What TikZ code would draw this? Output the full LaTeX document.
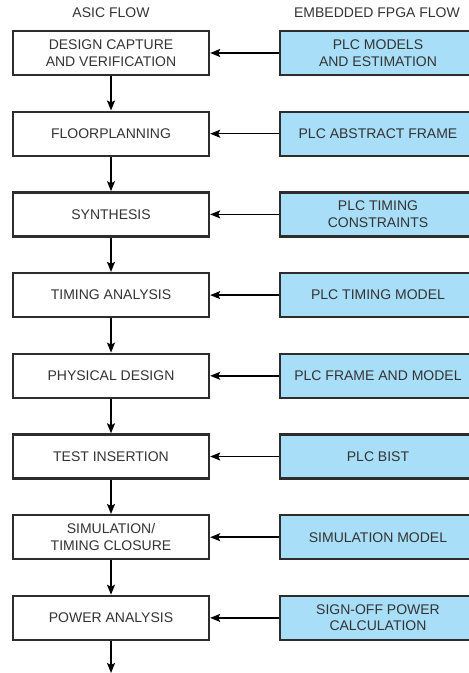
\documentclass[tikz,border=0pt]{standalone}
\usepackage{fontspec}
\setmainfont{Liberation Sans}
\usetikzlibrary{arrows.meta}
\definecolor{txt}{RGB}{51,51,51}
\definecolor{bord}{RGB}{45,45,45}
\definecolor{plcblue}{RGB}{168,222,248}
\begin{document}
\begin{tikzpicture}[x=1pt,y=-1pt,
  asicbox/.style={draw=bord,line width=2.4pt,fill=white,minimum width=196pt,minimum height=44pt,
    inner sep=0pt,align=center,text=txt,font=\fontsize{14}{16.5}\selectfont},
  plcbox/.style={asicbox,fill=plcblue},
  hdr/.style={text=txt,font=\fontsize{14}{16.5}\selectfont,inner sep=0pt},
  arr/.style={draw=black,line width=1.5pt,-{Stealth[length=10pt,width=8pt,inset=2pt]}}]
\useasboundingbox (0,0) rectangle (469,673);
\node[hdr] (h1) at (111,13) {ASIC FLOW};
\node[hdr] (h2) at (377,13) {EMBEDDED FPGA FLOW};
\node[asicbox] (a1) at (111,53) {DESIGN CAPTURE\\AND VERIFICATION};
\node[asicbox] (a2) at (111,133.7) {FLOORPLANNING};
\node[asicbox] (a3) at (111,214.4) {SYNTHESIS};
\node[asicbox] (a4) at (111,295.1) {TIMING ANALYSIS};
\node[asicbox] (a5) at (111,375.8) {PHYSICAL DESIGN};
\node[asicbox] (a6) at (111,456.5) {TEST INSERTION};
\node[asicbox] (a7) at (111,537.2) {SIMULATION/\\TIMING CLOSURE};
\node[asicbox] (a8) at (111,617.9) {POWER ANALYSIS};
\node[plcbox] (p1) at (378,53) {PLC MODELS\\AND ESTIMATION};
\node[plcbox] (p2) at (378,133.7) {PLC ABSTRACT FRAME};
\node[plcbox] (p3) at (378,214.4) {PLC TIMING\\CONSTRAINTS};
\node[plcbox] (p4) at (378,295.1) {PLC TIMING MODEL};
\node[plcbox] (p5) at (378,375.8) {PLC FRAME AND MODEL};
\node[plcbox] (p6) at (378,456.5) {PLC BIST};
\node[plcbox] (p7) at (378,537.2) {SIMULATION MODEL};
\node[plcbox] (p8) at (378,617.9) {SIGN-OFF POWER\\CALCULATION};
\coordinate (end) at (111,673);
\foreach \i in {1,...,8} { \draw[arr] (p\i.west) -- (a\i.east); }
\foreach \i/\j in {1/2,2/3,3/4,4/5,5/6,6/7,7/8} { \draw[arr] (a\i.south) -- (a\j.north); }
\draw[arr] (a8.south) -- (end);
\end{tikzpicture}
\end{document}
